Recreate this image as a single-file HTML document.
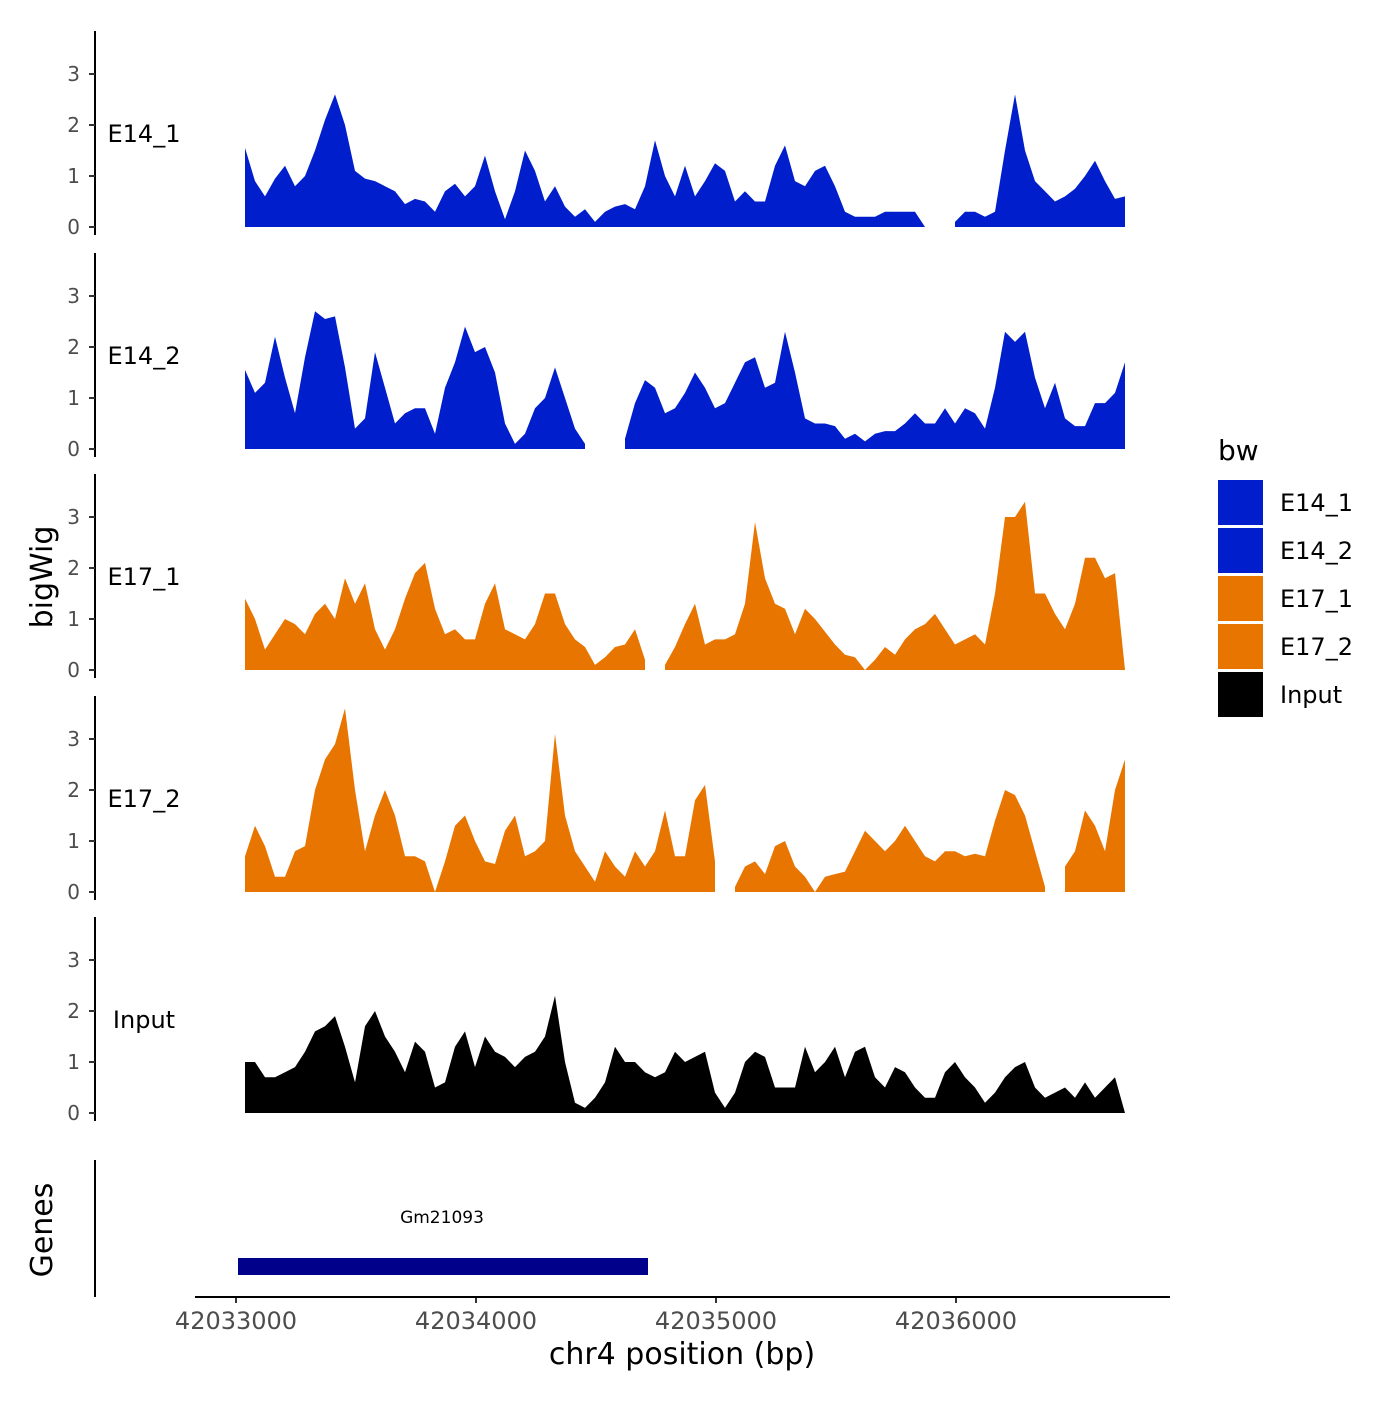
<!DOCTYPE html>
<html><head><meta charset="utf-8">
<style>
html,body{margin:0;padding:0;background:#fff;}
svg text{font-family:"DejaVu Sans","Liberation Sans",sans-serif;}
</style></head>
<body>
<svg id="chart" width="1400" height="1400" viewBox="0 0 1400 1400" xmlns="http://www.w3.org/2000/svg">
<rect width="1400" height="1400" fill="#fff"/>
<g id="tracks"></g>
<g id="axes"></g>
<text transform="translate(52,577) rotate(-90)" text-anchor="middle" font-size="30">bigWig</text>
<text transform="translate(52,1230) rotate(-90)" text-anchor="middle" font-size="30">Genes</text>
<line x1="95" y1="1160" x2="95" y2="1297" stroke="#000" stroke-width="2"/>
<line x1="195" y1="1297" x2="1170" y2="1297" stroke="#000" stroke-width="2"/>
<text x="682" y="1364" text-anchor="middle" font-size="30">chr4 position (bp)</text>
<g>
<text x="1218" y="460" font-size="28">bw</text>
<rect x="1218" y="480" width="45" height="45" fill="#001ECC"/>
<rect x="1218" y="528" width="45" height="45" fill="#001ECC"/>
<rect x="1218" y="576" width="45" height="45" fill="#E87500"/>
<rect x="1218" y="624" width="45" height="45" fill="#E87500"/>
<rect x="1218" y="672" width="45" height="45" fill="#000"/>
<text x="1280" y="511" font-size="24">E14_1</text>
<text x="1280" y="559" font-size="24">E14_2</text>
<text x="1280" y="607" font-size="24">E17_1</text>
<text x="1280" y="655" font-size="24">E17_2</text>
<text x="1280" y="703" font-size="24">Input</text>
</g>
<g>
<rect x="238" y="1258" width="410" height="17" fill="#00008B"/>
<text x="442" y="1223" text-anchor="middle" font-size="17">Gm21093</text>
</g>
</svg>
<script>
const trackNames = ["E14_1","E14_2","E17_1","E17_2","Input"];
const trackColors = ["#001ECC","#001ECC","#E87500","#E87500","#000000"];
const startBp = 42033037.5;
const stepBp = 41.6667;
const xTickValues = [42033000,42034000,42035000,42036000];
const xTickLabels = ["42033000","42034000","42035000","42036000"];
const yTickValues = [0,1,2,3];
const yTickLabels = ["0","1","2","3"];
const e14_1 = [1.55,0.9,0.6,0.95,1.2,0.8,1.0,1.5,2.1,2.6,2.0,1.1,0.95,0.9,0.8,0.7,0.45,0.55,0.5,0.3,0.7,0.85,0.6,0.8,1.4,0.7,0.15,0.7,1.5,1.1,0.5,0.8,0.4,0.2,0.35,0.1,0.3,0.4,0.45,0.35,0.8,1.7,1.0,0.6,1.2,0.6,0.9,1.25,1.1,0.5,0.7,0.5,0.5,1.2,1.6,0.9,0.8,1.1,1.2,0.8,0.3,0.2,0.2,0.2,0.3,0.3,0.3,0.3,0.0,null,null,0.1,0.3,0.3,0.2,0.3,1.5,2.6,1.5,0.9,0.7,0.5,0.6,0.75,1.0,1.3,0.9,0.55,0.6];
const e14_2 = [1.55,1.1,1.3,2.2,1.4,0.7,1.8,2.7,2.55,2.6,1.6,0.4,0.6,1.9,1.2,0.5,0.7,0.8,0.8,0.3,1.2,1.7,2.4,1.9,2.0,1.5,0.5,0.1,0.3,0.8,1.0,1.6,1.0,0.4,0.1,null,null,null,0.2,0.9,1.35,1.2,0.7,0.8,1.1,1.5,1.2,0.8,0.9,1.3,1.7,1.8,1.2,1.3,2.3,1.5,0.6,0.5,0.5,0.45,0.2,0.3,0.15,0.3,0.35,0.35,0.5,0.7,0.5,0.5,0.8,0.5,0.8,0.7,0.4,1.2,2.3,2.1,2.3,1.4,0.8,1.3,0.6,0.45,0.45,0.9,0.9,1.1,1.7];
const e17_1 = [1.4,1.0,0.4,0.7,1.0,0.9,0.7,1.1,1.3,1.0,1.8,1.3,1.7,0.8,0.4,0.8,1.4,1.9,2.1,1.2,0.7,0.8,0.6,0.6,1.3,1.7,0.8,0.7,0.6,0.9,1.5,1.5,0.9,0.6,0.45,0.1,0.25,0.45,0.5,0.8,0.2,null,0.1,0.45,0.9,1.3,0.5,0.6,0.6,0.7,1.3,2.9,1.8,1.3,1.2,0.7,1.2,1.0,0.75,0.5,0.3,0.25,0.0,0.2,0.45,0.3,0.6,0.8,0.9,1.1,0.8,0.5,0.6,0.7,0.5,1.5,3.0,3.0,3.3,1.5,1.5,1.1,0.8,1.3,2.2,2.2,1.8,1.9,0.0];
const e17_2 = [0.7,1.3,0.9,0.3,0.3,0.8,0.9,2.0,2.6,2.9,3.6,2.0,0.8,1.5,2.0,1.5,0.7,0.7,0.6,0.0,0.6,1.3,1.5,1.0,0.6,0.55,1.2,1.5,0.7,0.8,1.0,3.1,1.5,0.8,0.5,0.2,0.8,0.5,0.3,0.8,0.5,0.8,1.6,0.7,0.7,1.8,2.1,0.6,null,0.1,0.5,0.6,0.35,0.9,1.0,0.5,0.3,0.0,0.3,0.35,0.4,0.8,1.2,1.0,0.8,1.0,1.3,1.0,0.7,0.6,0.8,0.8,0.7,0.75,0.7,1.4,2.0,1.9,1.5,0.8,0.1,null,0.5,0.8,1.6,1.3,0.8,2.0,2.6];
const input = [1.0,1.0,0.7,0.7,0.8,0.9,1.2,1.6,1.7,1.9,1.3,0.6,1.7,2.0,1.5,1.2,0.8,1.4,1.2,0.5,0.6,1.3,1.6,0.9,1.5,1.2,1.1,0.9,1.1,1.2,1.5,2.3,1.0,0.2,0.1,0.3,0.6,1.3,1.0,1.0,0.8,0.7,0.8,1.2,1.0,1.1,1.2,0.4,0.1,0.4,1.0,1.2,1.1,0.5,0.5,0.5,1.3,0.8,1.0,1.3,0.7,1.2,1.3,0.7,0.5,0.9,0.8,0.5,0.3,0.3,0.8,1.0,0.7,0.5,0.2,0.4,0.7,0.9,1.0,0.5,0.3,0.4,0.5,0.3,0.6,0.3,0.5,0.7,0.0];
const trackData = [e14_1,e14_2,e17_1,e17_2,input];

const NS = "http://www.w3.org/2000/svg";
const panelZero = [227,449,670,892,1113];
const unitPx = 51;
function xScale(bp){ return 236 + (bp - 42033000) * 0.24; }
function yScale(p, v){ return panelZero[p] - v * unitPx; }

const tg = document.getElementById("tracks");
const ag = document.getElementById("axes");
trackData.forEach((vals, p) => {
  const g = document.createElementNS(NS, "g");
  
  
  tg.appendChild(g);
  let seg = [];
  const flush = () => {
    if (seg.length > 1) {
      let pts = seg.map(s => s[0].toFixed(1) + "," + s[1].toFixed(1));
      pts.push(seg[seg.length-1][0].toFixed(1) + "," + yScale(p,0));
      pts.unshift(seg[0][0].toFixed(1) + "," + yScale(p,0));
      const poly = document.createElementNS(NS, "polygon");
      
      
      poly.setAttribute("points", pts.join(" "));
      poly.setAttribute("fill", trackColors[p]);
      g.appendChild(poly);
    }
    seg = [];
  };
  vals.forEach((v, i) => {
    if (v === null) { flush(); return; }
    seg.push([xScale(startBp + i * stepBp), yScale(p, v)]);
  });
  flush();
  const top = panelZero[p] - 196, bot = panelZero[p] + 8;
  const ax = document.createElementNS(NS, "line");
  
  
  ax.setAttribute("x1",95); ax.setAttribute("x2",95);
  ax.setAttribute("y1",top); ax.setAttribute("y2",bot);
  ax.setAttribute("stroke","#000"); ax.setAttribute("stroke-width","2");
  ag.appendChild(ax);
  yTickValues.forEach((t, k) => {
    const y = yScale(p, t);
    const tk = document.createElementNS(NS, "line");
    
    
    tk.setAttribute("x1",89); tk.setAttribute("x2",95);
    tk.setAttribute("y1",y); tk.setAttribute("y2",y);
    tk.setAttribute("stroke","#333"); tk.setAttribute("stroke-width","2");
    ag.appendChild(tk);
    const tx = document.createElementNS(NS, "text");
    
    
    tx.setAttribute("x",80); tx.setAttribute("y",y+7);
    tx.setAttribute("text-anchor","end"); tx.setAttribute("font-size","20");
    tx.setAttribute("fill","#4d4d4d");
    tx.textContent = yTickLabels[k];
    ag.appendChild(tx);
  });
  const lb = document.createElementNS(NS, "text");
  
  
  lb.setAttribute("x",144); lb.setAttribute("y",panelZero[p]-85);
  lb.setAttribute("text-anchor","middle"); lb.setAttribute("font-size","24");
  lb.textContent = trackNames[p];
  ag.appendChild(lb);
});
xTickValues.forEach((t, k) => {
  const x = xScale(t);
  const tk = document.createElementNS(NS, "line");
  
  
  tk.setAttribute("x1",x); tk.setAttribute("x2",x);
  tk.setAttribute("y1",1297); tk.setAttribute("y2",1303);
  tk.setAttribute("stroke","#333"); tk.setAttribute("stroke-width","2");
  ag.appendChild(tk);
  const tx = document.createElementNS(NS, "text");
  
  
  tx.setAttribute("x",x); tx.setAttribute("y",1329);
  tx.setAttribute("text-anchor","middle"); tx.setAttribute("font-size","24");
  tx.setAttribute("fill","#4d4d4d");
  tx.textContent = xTickLabels[k];
  ag.appendChild(tx);
});
</script>
</body></html>
